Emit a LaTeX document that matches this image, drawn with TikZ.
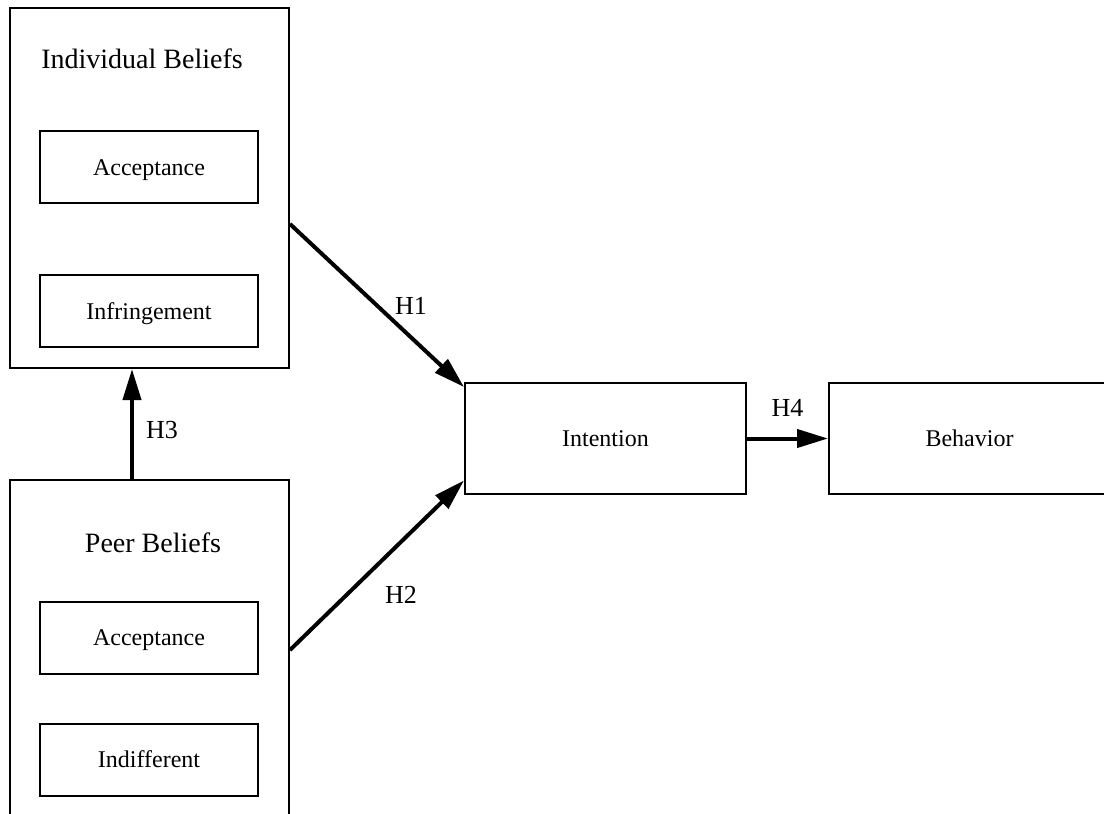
\documentclass[tikz,border=0pt]{standalone}
\usepackage{fontspec}
\setmainfont{Liberation Serif}
\usetikzlibrary{arrows.meta,positioning}

\begin{document}
\begin{tikzpicture}[x=0.5pt, y=-0.5pt,
        box/.style={draw, line width=1pt, inner sep=0pt},
        itembox/.style={box, minimum width=109pt, minimum height=36pt,
            font=\fontsize{12}{14}\selectfont, text height=8pt, text depth=0pt},
        title/.style={font=\fontsize{14}{16}\selectfont, anchor=base},
        hyp/.style={-{Triangle[length=15.5pt,width=9pt]}, line width=2pt},
        hlabel/.style={font=\fontsize{13}{15}\selectfont, inner sep=1pt}]
        % Page size, the boxes on the right and bottom run over the edge
        \clip (0,0) rectangle (1104,814);

        % Individual beliefs
        \node[box, minimum width=139.5pt, minimum height=180pt] (ind) at (149.5,188) {};
        \node[title] (indtitle) at (142,68) {Individual Beliefs};
        \node[itembox] (indacc) at (149,167) {Acceptance};
        \node[itembox] (indinf) at (149,311) {Infringement};

        % Peer beliefs
        \node[box, minimum width=139.5pt, minimum height=170pt] (peer) at (149.5,650) {};
        \node[title] (peertitle) at (153,552) {Peer Beliefs};
        \node[itembox] (peeracc) at (149,637.5) {Acceptance};
        \node[itembox] (peerind) at (149,759.5) {Indifferent};

        % Intention and behavior
        \node[box, minimum width=140.5pt, minimum height=55.5pt,
            font=\fontsize{12}{14}\selectfont] (int) at (605.5,438.5) {Intention};
        \node[box, minimum width=140.5pt, minimum height=55.5pt,
            font=\fontsize{12}{14}\selectfont] (beh) at (969.5,438.5) {Behavior};

        % Hypotheses
        \draw[hyp] ([yshift=-18pt]ind.east) -- ([yshift=-2.5pt]int.north west)
            node[hlabel, midway, right=7pt] {H1};
        \draw[hyp] (peer.east) -- ([yshift=7.25pt]int.south west)
            node[hlabel, midway, below right=8.5pt and 2pt] {H2};
        \draw[hyp] ([xshift=-8.75pt]peer.north) -- ([xshift=-8.75pt]ind.south)
            node[hlabel, midway, right=5pt, yshift=-3pt] {H3};
        \draw[hyp] (int) -- (beh) node[hlabel, midway, above=9pt] {H4};
    \end{tikzpicture}
\end{document}
